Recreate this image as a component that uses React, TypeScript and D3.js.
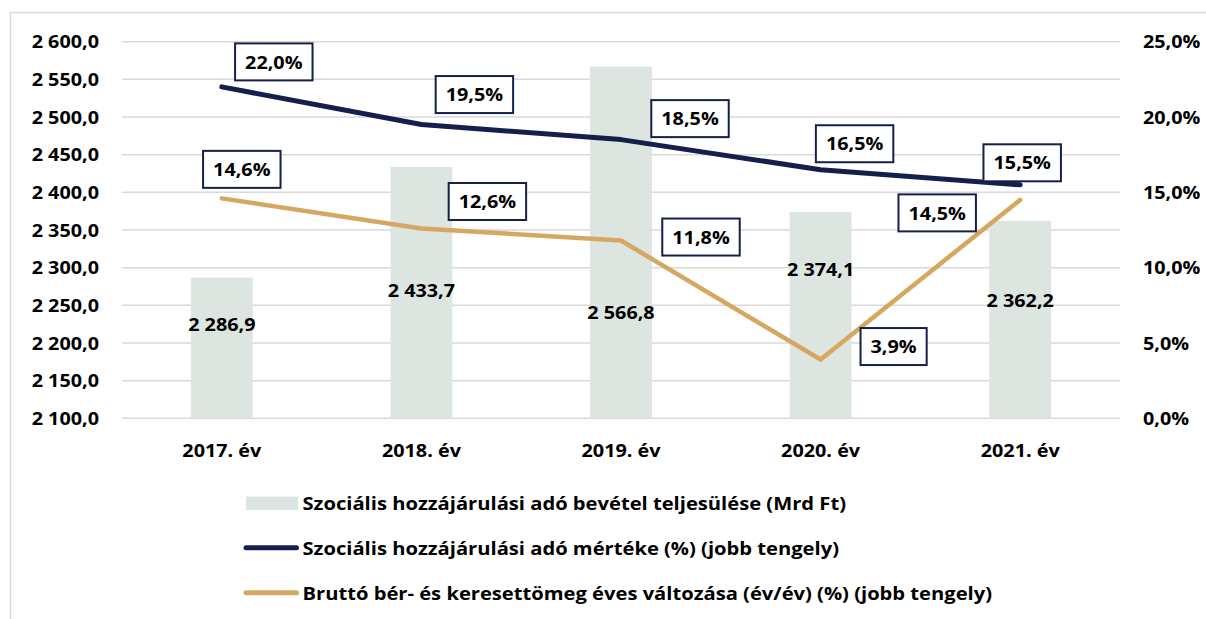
import React from "react";
import * as d3 from "d3";

// ---- data ----
const categories = ["2017. év", "2018. év", "2019. év", "2020. év", "2021. év"];
const revenue = [2286.9, 2433.7, 2566.8, 2374.1, 2362.2];
const taxRate = [22.0, 19.5, 18.5, 16.5, 15.5];
const wageGrowth = [14.6, 12.6, 11.8, 3.9, 14.5];
const leftTicks = [2100, 2150, 2200, 2250, 2300, 2350, 2400, 2450, 2500, 2550, 2600];
const rightTicks = [0, 5, 10, 15, 20, 25];
const legendLabels = [
  "Szociális hozzájárulási adó bevétel teljesülése (Mrd Ft)",
  "Szociális hozzájárulási adó mértéke (%) (jobb tengely)",
  "Bruttó bér- és keresettömeg éves változása (év/év) (%) (jobb tengely)",
];

// ---- layout (not data) ----
const W = 1206;
const H = 619;
const plot = { left: 122, right: 1120, top: 41.7, bottom: 418.3 };
const SX = 1.1; // horizontal glyph stretch of the original rendering
const SX_LEGEND = 1.12;
const FONT = "'Open Sans', 'Liberation Sans', sans-serif";
const FS = 18;
const barLabelLevel = [2225, 2270, 2241, 2298, 2256]; // where value labels sit (left-axis units)
const rateLabelOffset = [[52, -25], [53, -30], [69, -21], [34, -26], [2, -22]];
const wageLabelOffset = [[20, -29], [66, -27], [80, -3.5], [73, -13], [-83, 13]];

const colors = {
  bar: "#dde5e1",
  navy: "#151f4b",
  gold: "#d5a862",
  grid: "#d9d9d9",
  text: "#000000",
  frame: "#d9d9d9",
};

const hu = d3.formatLocale({ decimal: ",", thousands: " ", grouping: [3], currency: ["", " Ft"] });
const fmtNum = hu.format(",.1f");
const fmtPct = (v: number) => hu.format(".1f")(v) + "%";

let measureCtx: CanvasRenderingContext2D | null = null;
function textWidth(s: string): number {
  if (typeof document === "undefined") return s.length * FS * 0.58;
  if (!measureCtx) {
    const c = document.createElement("canvas");
    measureCtx = c.getContext("2d");
  }
  if (!measureCtx) return s.length * FS * 0.58;
  measureCtx.font = `bold ${FS}px ${FONT}`;
  return measureCtx.measureText(s).width * SX;
}

function T({ x, y, anchor = "start", sx = SX, children }: { x: number; y: number; anchor?: string; sx?: number; children: React.ReactNode }) {
  return (
    <text
      transform={`translate(${x},${y}) scale(${sx},1)`}
      textAnchor={anchor as any}
      dominantBaseline="central"
      fontFamily={FONT}
      fontWeight="bold"
      fontSize={FS}
      fill={colors.text}
    >
      {children}
    </text>
  );
}

function LabelBox({ cx, cy, text }: { cx: number; cy: number; text: string }) {
  const w = textWidth(text) + 20;
  const h = 37;
  return (
    <g>
      <rect x={cx - w / 2} y={cy - h / 2} width={w} height={h} fill="#fff" stroke={colors.navy} strokeWidth={2} />
      <T x={cx} y={cy} anchor="middle">{text}</T>
    </g>
  );
}

export default function App() {
  const x = d3
    .scaleBand<string>()
    .domain(categories)
    .range([plot.left, plot.right])
    .paddingInner(0.69)
    .paddingOuter(0.345);
  const yL = d3.scaleLinear().domain([2100, 2600]).range([plot.bottom, plot.top]);
  const yR = d3.scaleLinear().domain([0, 25]).range([plot.bottom, plot.top]);
  const cx = (c: string) => (x(c) as number) + x.bandwidth() / 2;

  const line = d3
    .line<number>()
    .x((_, i) => cx(categories[i]))
    .y((v) => yR(v));

  return (
    <svg
      width={W}
      height={H}
      viewBox={`0 0 ${W} ${H}`}
      style={{ position: "absolute", left: 0, top: 0, background: "#fff" }}
    >
      <rect x={0} y={0} width={W} height={H} fill="#fff" />
      <rect x={10.5} y={12.5} width={W + 20} height={H + 20} fill="none" stroke={colors.frame} strokeWidth={1.5} />

      {/* gridlines */}
      {leftTicks.map((t) => (
        <line key={t} x1={plot.left} x2={plot.right} y1={yL(t)} y2={yL(t)} stroke={colors.grid} strokeWidth={1.5} />
      ))}

      {/* left axis labels */}
      {leftTicks.map((t) => (
        <T key={t} x={99} y={yL(t)} anchor="end">{fmtNum(t)}</T>
      ))}

      {/* right axis labels */}
      {rightTicks.map((t) => (
        <T key={t} x={1143} y={yR(t)} anchor="start">{fmtPct(t)}</T>
      ))}

      {/* bars */}
      {revenue.map((v, i) => (
        <rect
          key={categories[i]}
          x={x(categories[i])}
          y={yL(v)}
          width={x.bandwidth()}
          height={yL(2100) - yL(v)}
          fill={colors.bar}
        />
      ))}

      {/* bar value labels */}
      {revenue.map((v, i) => (
        <T key={i} x={cx(categories[i])} y={yL(barLabelLevel[i])} anchor="middle">{fmtNum(v)}</T>
      ))}

      {/* category labels */}
      {categories.map((c) => (
        <T key={c} x={cx(c)} y={450} anchor="middle">{c}</T>
      ))}

      {/* lines */}
      <path d={line(wageGrowth) || ""} fill="none" stroke={colors.gold} strokeWidth={4.5} strokeLinecap="round" strokeLinejoin="round" />
      <path d={line(taxRate) || ""} fill="none" stroke={colors.navy} strokeWidth={5} strokeLinecap="round" strokeLinejoin="round" />

      {/* labels */}
      {taxRate.map((v, i) => (
        <LabelBox key={"r" + i} cx={cx(categories[i]) + rateLabelOffset[i][0]} cy={yR(v) + rateLabelOffset[i][1]} text={fmtPct(v)} />
      ))}
      {wageGrowth.map((v, i) => (
        <LabelBox key={"w" + i} cx={cx(categories[i]) + wageLabelOffset[i][0]} cy={yR(v) + wageLabelOffset[i][1]} text={fmtPct(v)} />
      ))}

      {/* legend */}
      <rect x={246} y={496.5} width={52} height={13.5} fill={colors.bar} />
      <T x={302.5} y={503} anchor="start" sx={SX_LEGEND}>{legendLabels[0]}</T>
      <line x1={246} x2={296.5} y1={547.7} y2={547.7} stroke={colors.navy} strokeWidth={5} strokeLinecap="round" />
      <T x={302.5} y={548} anchor="start" sx={SX_LEGEND}>{legendLabels[1]}</T>
      <line x1={246} x2={296.5} y1={592.7} y2={592.7} stroke={colors.gold} strokeWidth={5} strokeLinecap="round" />
      <T x={302.5} y={593} anchor="start" sx={SX_LEGEND}>{legendLabels[2]}</T>
    </svg>
  );
}
